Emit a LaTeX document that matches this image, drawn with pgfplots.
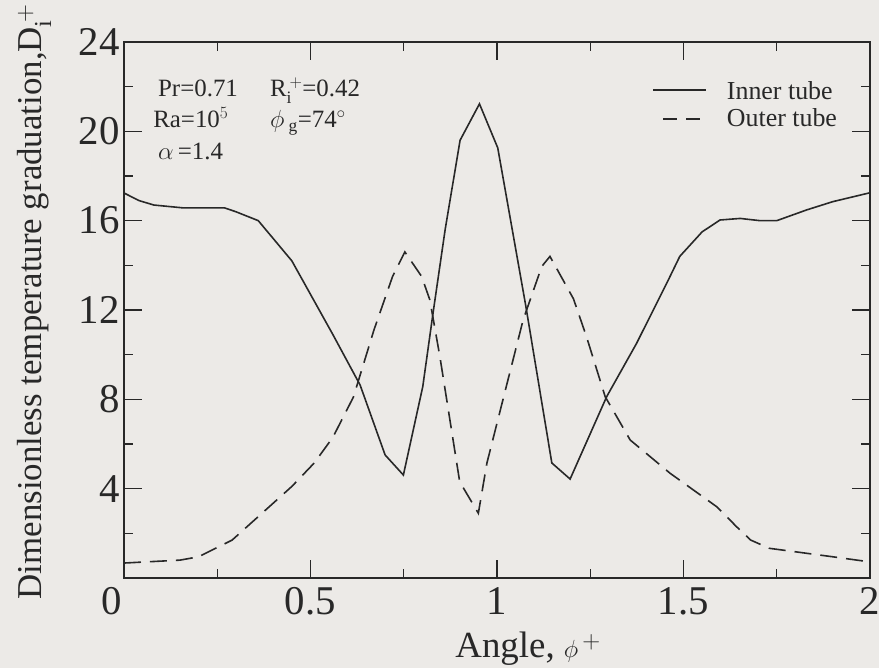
\documentclass[border=0pt]{standalone}
\usepackage{pgfplots}
\pgfplotsset{compat=1.18}
\usepackage{fontspec}
\setmainfont{Liberation Serif}

\definecolor{paper}{RGB}{236,234,231}
\definecolor{ink}{RGB}{40,40,40}

% Inner tube (solid)
\pgfplotstableread{
x y
0.000 17.24
0.040 16.90
0.080 16.70
0.160 16.57
0.270 16.57
0.300 16.40
0.360 16.00
0.450 14.20
0.560 10.90
0.633 8.64
0.700 5.51
0.749 4.61
0.801 8.57
0.828 11.80
0.861 15.60
0.901 19.60
0.953 21.23
1.002 19.26
1.077 12.20
1.147 5.15
1.196 4.43
1.294 8.12
1.374 10.50
1.458 13.30
1.490 14.40
1.550 15.50
1.598 16.03
1.652 16.10
1.705 16.00
1.750 16.00
1.830 16.48
1.900 16.85
2.000 17.25
}\innertube

% Outer tube (dashed)
\pgfplotstableread{
x y
0.000 0.67
0.150 0.80
0.200 0.95
0.290 1.70
0.380 3.05
0.450 4.10
0.510 5.15
0.560 6.30
0.615 8.10
0.670 11.10
0.720 13.50
0.753 14.60
0.798 13.50
0.820 12.45
0.847 9.90
0.900 4.31
0.950 2.90
0.973 5.15
1.070 11.55
1.120 13.95
1.142 14.40
1.205 12.50
1.240 10.80
1.290 8.12
1.357 6.18
1.464 4.69
1.590 3.18
1.642 2.30
1.680 1.70
1.730 1.33
1.900 0.95
2.000 0.72
}\outertube

\begin{document}
\begin{tikzpicture}[x=1bp,y=1bp]
\fill[paper] (-124bp,-90bp) rectangle (755bp,578bp);
\begin{axis}[
  scale only axis,
  width=746bp, height=536bp,
  xmin=0, xmax=2, ymin=0, ymax=24,
  axis line style={ink, line width=1.4bp},
  every tick/.style={ink, line width=1.2bp},
  tick align=inside,
  xtick={0,0.5,1,1.5,2},
  minor xtick={0.25,0.75,1.25,1.75},
  ytick={0,4,...,24},
  minor ytick={2,6,...,22},
  major tick length=18bp,
  minor tick length=9bp,
  /pgf/number format/assume math mode=true,
  xticklabel style={font=\fontsize{41}{41}\selectfont, inner sep=0pt, yshift=-9bp, text=ink},
  yticklabel style={font=\fontsize{41}{41}\selectfont, inner sep=0pt, xshift=-4bp, text=ink},
  xticklabels={,0.5,1,1.5,2},
  yticklabels={,4,8,12,16,20,24},
  xlabel={Angle, $\phi^{\,+}$},
  ylabel={Dimensionless temperature graduation,D$_{\mathrm{i}}^{\,+}$},
  xlabel style={font=\fontsize{37}{37}\selectfont, text=ink, at={(axis description cs:0.444,-0.149)}, anchor=base west, inner sep=0pt},
  ylabel style={font=\fontsize{35}{35}\selectfont, text=ink, at={(axis description cs:-0.110,0.515)}, anchor=base, inner sep=0pt},
  legend style={draw=none, fill=none, font=\fontsize{26}{26}\selectfont, text=ink,
    at={(axis description cs:0.708,0.931)}, anchor=north west, inner sep=0pt,
    row sep=0pt, column sep=0pt,
    nodes={inner sep=0pt, text height=20bp, text depth=5bp}},
  legend cell align=left,
  clip=false,
]
\addplot[ink, line width=1.6bp,
  legend image code/.code={\path (0bp,-12.5bp) (73bp,12.5bp);
    \draw[ink, line width=1.6bp] (0bp,2.5bp) -- (53bp,2.5bp);}]
  table[x=x, y=y] {\innertube};
\addlegendentry{Inner tube}
\addplot[ink, line width=1.6bp, dash pattern=on 17bp off 9bp,
  legend image code/.code={\path (0bp,-12.5bp) (73bp,12.5bp);
    \draw[ink, line width=1.6bp, dash pattern=on 14bp off 9bp] (10bp,0bp) -- (53bp,0bp);}]
  table[x=x, y=y] {\outertube};
\addlegendentry{Outer tube}

\node[font=\fontsize{41}{41}\selectfont, text=ink, anchor=north, inner sep=0pt, xshift=-12bp, yshift=-9bp]
  at (axis cs:0,0) {0};

\begin{scope}[every node/.style={font=\fontsize{25}{25}\selectfont, text=ink, anchor=base west, inner sep=0pt}]
\node at (axis cs:0.091,21.54) {Pr=0.71};
\node at (axis cs:0.391,21.54) {R$_{\mathrm{i}}^{\,+}$=0.42};
\node at (axis cs:0.078,20.15) {Ra=10$^{5}$};
\node at (axis cs:0.391,20.15) {$\phi$\,$_{\mathrm{g}}$=74$^{\circ}$};
\node at (axis cs:0.091,18.72) {$\alpha$\,=1.4};
\end{scope}
\end{axis}
\pgfresetboundingbox
\path[use as bounding box] (-124bp,-90bp) rectangle (755bp,578bp);
\end{tikzpicture}
\end{document}
